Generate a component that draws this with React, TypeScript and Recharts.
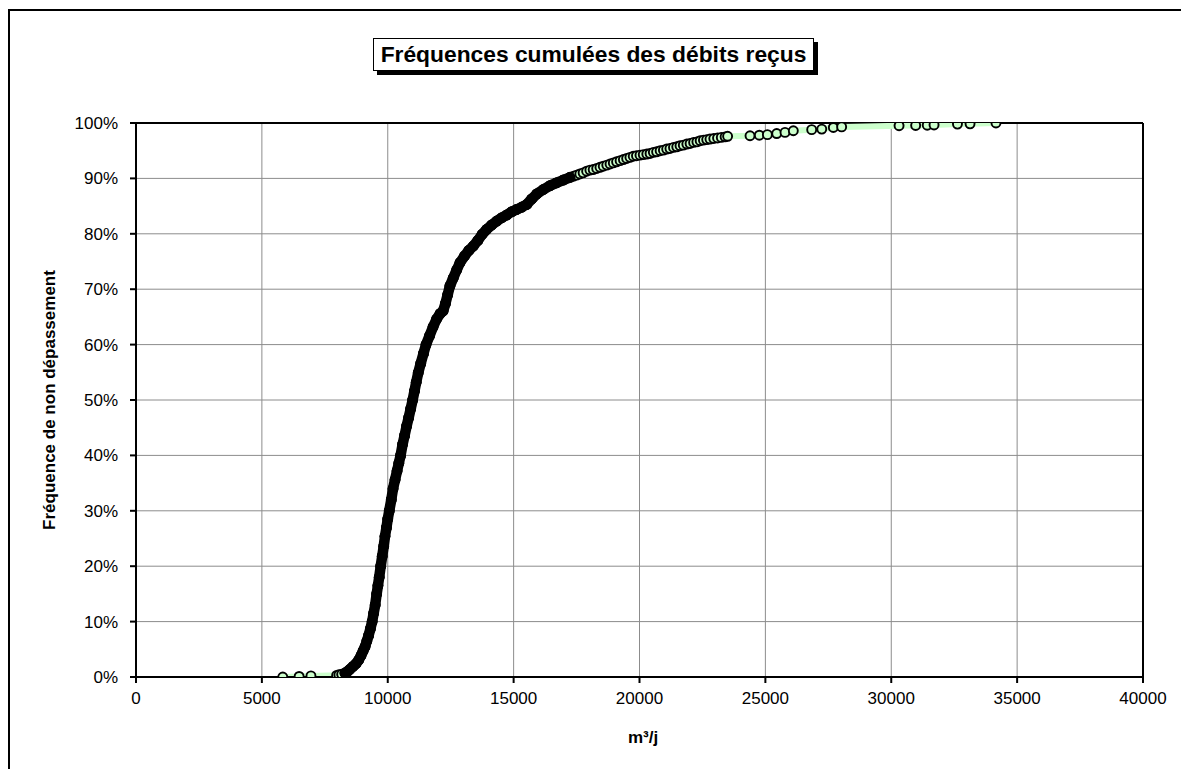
import React from 'react';
import {
    ComposedChart,
    Line,
    Scatter,
    XAxis,
    YAxis,
    CartesianGrid,
    ReferenceLine,
} from 'recharts';

// débits reçus (m3/j), triés
const debits = [
    5830, 6480, 6950, 7970, 8060, 8170, 8300, 8400, 8500, 8620, 8740, 8850, 8940, 9020, 9100,
    9170, 9240, 9310, 9380, 9440, 9500, 9560, 9610, 9660, 9720, 9780, 9840, 9890, 9950, 10000,
    10060, 10140, 10210, 10290, 10370, 10440, 10510, 10590, 10670, 10750, 10830, 10910, 10990,
    11060, 11130, 11210, 11310, 11420, 11520, 11660, 11800, 11940, 12080, 12200, 12290, 12380,
    12470, 12600, 12740, 12870, 13050, 13220, 13400, 13580, 13750, 13930, 14130, 14330, 14530,
    14730, 14930, 15120, 15320, 15520, 15720, 15920, 16180, 16450, 16700, 16970, 17240,
    17380, 17500, 17630, 17760, 17900, 18030, 18160, 18300, 18430, 18560, 18700, 18830, 18960,
    19090, 19230, 19360, 19490, 19620, 19750, 19880, 20020, 20150, 20290, 20420, 20550, 20680,
    20820, 20950, 21080, 21210, 21350, 21480, 21610, 21740, 21880, 22010, 22150, 22280, 22410,
    22540, 22670, 22800, 22950, 23100, 23250, 23400, 23500,
    24390, 24760, 25080, 25450, 25780, 26110, 26840, 27240, 27700, 28030, 30310, 30970, 31430,
    31700, 32630, 33130, 34160,
];

// fréquence de non dépassement (%)
const frequences = [
    0, 0.1, 0.2, 0.3, 0.4, 0.5, 0.7, 1.0, 1.4, 1.9, 2.4, 3.1, 3.9, 4.7, 5.5,
    6.5, 7.5, 8.7, 10.0, 11.5, 13.0, 15.0, 16.5, 18.0, 20.0, 21.8, 23.6, 25.4, 27.0, 28.5,
    30.0, 32.0, 34.0, 35.6, 37.2, 38.6, 40.0, 42.0, 43.6, 45.3, 46.8, 48.4, 50.0,
    51.6, 53.2, 54.9, 56.6, 58.4, 60.0, 61.6, 63.2, 64.6, 65.6, 66.1, 67.4, 69.0,
    70.6, 72.0, 73.5, 74.8, 76.0, 77.0, 77.8, 78.8, 79.9, 80.8, 81.6, 82.3, 82.9,
    83.4, 84.0, 84.4, 84.8, 85.3, 86.3, 87.2, 88.0, 88.7, 89.2, 89.7, 90.2,
    90.4, 90.6, 90.8, 91.0, 91.3, 91.5, 91.6, 91.8, 92.0, 92.2, 92.4, 92.6, 92.8,
    93.0, 93.2, 93.4, 93.6, 93.8, 94.0, 94.1, 94.2, 94.3, 94.4, 94.5, 94.7, 94.8,
    95.0, 95.1, 95.3, 95.4, 95.6, 95.7, 95.9, 96.0, 96.2, 96.3, 96.5, 96.6, 96.8,
    96.9, 97.0, 97.1, 97.2, 97.3, 97.4, 97.5, 97.6,
    97.7, 97.8, 97.9, 98.1, 98.3, 98.6, 98.8, 98.9, 99.2, 99.3, 99.5, 99.55, 99.6,
    99.65, 99.8, 99.85, 100,
];

const xTicks = [0, 5000, 10000, 15000, 20000, 25000, 30000, 35000, 40000];
const yTicks = [0, 10, 20, 30, 40, 50, 60, 70, 80, 90, 100];

const FONT = 'Arial, "Liberation Sans", sans-serif';

const points = debits.map((x, i) => ({ x, y: frequences[i] }));
// zone où les marqueurs se chevauchent au point de former un trait noir plein
const densePoints = points.filter((p) => p.x >= 8300 && p.x <= 17240);

const Marker = (props: any) => {
    const { cx, cy } = props;
    if (cx == null || cy == null) return null;
    return <circle cx={cx} cy={cy} r={4.5} fill="#ccffcc" stroke="#000" strokeWidth={1.9} />;
};

const DenseMarker = (props: any) => {
    const { cx, cy } = props;
    if (cx == null || cy == null) return null;
    return <circle cx={cx} cy={cy} r={5.3} fill="#000" />;
};

const tickStyle = { fill: '#000', fontSize: 17, fontFamily: FONT };

const App: React.FC = () => {
    return (
        <div style={{ position: 'relative', width: 1173, height: 761, overflow: 'hidden', fontFamily: FONT }}>
            <div
                style={{
                    position: 'absolute',
                    left: 0,
                    top: 1,
                    width: 1200,
                    height: 800,
                    border: '2px solid #000',
                }}
            />
            <div
                style={{
                    position: 'absolute',
                    left: 365,
                    top: 30,
                    width: 441,
                    height: 33,
                    boxSizing: 'border-box',
                    border: '1px solid #000',
                    background: '#fff',
                    boxShadow: '4px 4px 0 #000',
                    display: 'flex',
                    alignItems: 'center',
                    justifyContent: 'center',
                    fontSize: 22.8,
                    fontWeight: 'bold',
                    color: '#000',
                    whiteSpace: 'nowrap',
                }}
            >
                Fréquences cumulées des débits reçus
            </div>
            <div style={{ position: 'absolute', left: 0, top: 0 }}>
                <ComposedChart
                    width={1173}
                    height={761}
                    margin={{ top: 115, right: 38, left: 68, bottom: 62 }}
                >
                    <CartesianGrid stroke="#8c8c8c" strokeWidth={1} horizontalValues={yTicks} verticalValues={xTicks} />
                    <XAxis
                        dataKey="x"
                        type="number"
                        domain={[0, 40000]}
                        ticks={xTicks}
                        interval={0}
                        height={30}
                        allowDataOverflow
                        axisLine={{ stroke: '#000', strokeWidth: 2 }}
                        tickLine={{ stroke: '#000', strokeWidth: 2 }}
                        tickSize={6}
                        tickMargin={9}
                        tick={tickStyle}
                    />
                    <YAxis
                        dataKey="y"
                        type="number"
                        domain={[0, 100]}
                        ticks={yTicks}
                        interval={0}
                        width={60}
                        allowDataOverflow
                        tickFormatter={(v: number) => `${v}%`}
                        axisLine={{ stroke: '#000', strokeWidth: 2 }}
                        tickLine={{ stroke: '#000', strokeWidth: 2 }}
                        tickSize={6}
                        tickMargin={12}
                        tick={tickStyle}
                    />
                    <ReferenceLine y={100} stroke="#000" strokeWidth={2} />
                    <ReferenceLine x={40000} stroke="#000" strokeWidth={2} />
                    <Line
                        data={points}
                        dataKey="y"
                        type="linear"
                        stroke="#ccffcc"
                        strokeWidth={6}
                        dot={false}
                        activeDot={false}
                        isAnimationActive={false}
                    />
                    <Scatter data={points} dataKey="y" shape={Marker} isAnimationActive={false} />
                    <Scatter
                        data={densePoints}
                        dataKey="y"
                        shape={DenseMarker}
                        line={{ stroke: '#000', strokeWidth: 10.5, strokeLinejoin: 'round', strokeLinecap: 'round' }}
                        isAnimationActive={false}
                    />
                </ComposedChart>
            </div>
            <div
                style={{
                    position: 'absolute',
                    left: 41,
                    top: 392,
                    transform: 'translate(-50%, -50%) rotate(-90deg)',
                    fontSize: 17,
                    fontWeight: 'bold',
                    color: '#000',
                    whiteSpace: 'nowrap',
                    lineHeight: '17px',
                }}
            >
                Fréquence de non dépassement
            </div>
            <div
                style={{
                    position: 'absolute',
                    left: 635,
                    top: 721,
                    transform: 'translateX(-50%)',
                    fontSize: 17,
                    fontWeight: 'bold',
                    color: '#000',
                    whiteSpace: 'nowrap',
                    lineHeight: '17px',
                }}
            >
                m³/j
            </div>
        </div>
    );
};

export default App;
